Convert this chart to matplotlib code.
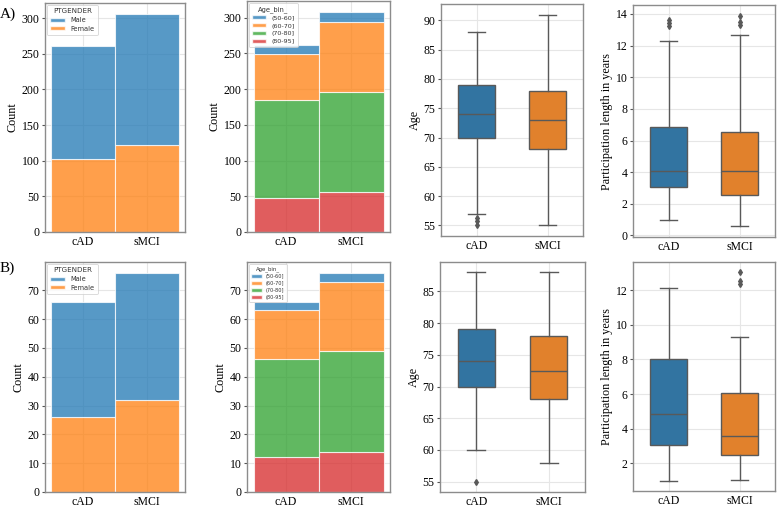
import numpy as np
import matplotlib
matplotlib.use("Agg")
import matplotlib.pyplot as plt
from matplotlib.patches import Patch

# categories
groups = ["cAD", "sMCI"]
genders = ["Male", "Female"]
age_bins = ["(50-60]", "(60-70]", "(70-80]", "(80-95]"]

# A) gender counts per group
a_female = [103, 122]
a_male = [158, 184]
# A) age bin counts per group
a_age = {
    "(50-60]": [13, 14],
    "(60-70]": [64, 98],
    "(70-80]": [137, 140],
    "(80-95]": [48, 56],
}

# B) gender counts per group
b_female = [26, 32]
b_male = [40, 44]
b_age = {
    "(50-60]": [3, 3],
    "(60-70]": [17, 24],
    "(70-80]": [34, 35],
    "(80-95]": [12, 14],
}

# box statistics: whislo, q1, med, q3, whishi, fliers
a_age_box = {
    "cAD": [57, 70, 74, 79, 88, [56.3, 55.8, 55.0]],
    "sMCI": [55, 68, 73, 78, 91, []],
}
a_len_box = {
    "cAD": [0.97, 3.04, 4.1, 6.84, 12.27, [13.64, 13.43, 13.26]],
    "sMCI": [0.57, 2.56, 4.05, 6.57, 12.69, [13.9, 13.47, 13.32]],
}
b_age_box = {
    "cAD": [60, 70, 74, 79, 88, [55.0]],
    "sMCI": [58, 68, 72.5, 78, 88, []],
}
b_len_box = {
    "cAD": [1.0, 3.03, 4.83, 8.02, 12.13, []],
    "sMCI": [1.04, 2.50, 3.59, 6.04, 9.27, [13.03, 12.52, 12.38]],
}

gender_colors = {"Male": "#1f77b4", "Female": "#ff7f0e"}
age_colors = {"(50-60]": "#1f77b4", "(60-70]": "#ff7f0e",
              "(70-80]": "#2ca02c", "(80-95]": "#d62728"}
box_colors = ["#3274a1", "#e1812c"]

serif = "Liberation Serif"
tick_fs = 8.5
label_fs = 8.7


def style_axes(ax):
    ax.set_facecolor("white")
    ax.grid(True, color="#e6e6e6", linewidth=0.8)
    ax.set_axisbelow(True)
    for s in ax.spines.values():
        s.set_color("#8c8c8c")
        s.set_linewidth(1.0)
    ax.tick_params(axis="y", length=2.5, width=0.8, color="#555555", labelsize=tick_fs, pad=1.5)
    ax.tick_params(axis="x", length=0, labelsize=tick_fs, pad=3)


def stacked_hist(ax, layers, colors, legend_title, legend_fs):
    # layers: list of (name, values) from bottom to top
    x = np.arange(len(groups))
    bottom = np.zeros(len(groups))
    for name, vals in layers:
        ax.bar(x, vals, width=1.0, bottom=bottom, color=colors[name], alpha=0.75,
               edgecolor=(1, 1, 1, 0.6), linewidth=0.8)
        bottom = bottom + np.array(vals)
    ax.set_xticks(x)
    ax.set_xticklabels(groups)
    ax.set_ylabel("Count", fontfamily=serif, fontsize=label_fs, labelpad=2)
    ax.margins(x=0.05)
    handles = [Patch(facecolor=colors[n], alpha=0.75, edgecolor=(1, 1, 1, 0.6)) for n, _ in reversed(layers)]
    labels = [n for n, _ in reversed(layers)]
    leg = ax.legend(handles, labels, title=legend_title, loc="upper left",
                    fontsize=legend_fs, title_fontsize=legend_fs + 0.3,
                    frameon=True, borderpad=0.5, handlelength=2.2, handleheight=0.6,
                    labelspacing=0.4, borderaxespad=0.3)
    for t in leg.get_texts():
        t.set_color("#333333")
    leg.get_title().set_color("#333333")
    leg.get_frame().set_edgecolor("#cccccc")
    leg.get_frame().set_linewidth(0.6)
    style_axes(ax)


def box(ax, stats, ylabel):
    bstats = []
    for g in groups:
        lo, q1, med, q3, hi, fl = stats[g]
        bstats.append(dict(whislo=lo, q1=q1, med=med, q3=q3, whishi=hi, fliers=fl, label=g))
    lc = "#595959"
    bp = ax.bxp(bstats, positions=[0, 1], widths=0.51, patch_artist=True,
                boxprops=dict(edgecolor=lc, linewidth=1.0),
                medianprops=dict(color=lc, linewidth=1.0),
                whiskerprops=dict(color=lc, linewidth=1.0),
                capprops=dict(color=lc, linewidth=1.0),
                flierprops=dict(marker="d", markersize=3, markerfacecolor=lc,
                                markeredgecolor=lc, linestyle="none"),
                capwidths=0.25)
    for patch, c in zip(bp["boxes"], box_colors):
        patch.set_facecolor(c)
    ax.set_xlim(-0.5, 1.5)
    ax.set_xticks([0, 1])
    ax.set_xticklabels(groups)
    ax.set_ylabel(ylabel, fontfamily=serif, fontsize=label_fs, labelpad=2)
    style_axes(ax)


fig = plt.figure(figsize=(7.77, 5.07), dpi=100)
W, H = 777, 507


def add_ax(l, t, r, b):
    return fig.add_axes([l / W, 1 - b / H, (r - l) / W, (b - t) / H])


# row A
ax = add_ax(45, 3, 185, 232)
stacked_hist(ax, [("Female", a_female), ("Male", a_male)], gender_colors, "PTGENDER", 4.8)
ax = add_ax(247, 1, 390, 232)
stacked_hist(ax, [(n, a_age[n]) for n in reversed(age_bins)], age_colors, "Age_bin_", 4.6)
ax = add_ax(441, 4, 583, 236)
box(ax, a_age_box, "Age")
ax.set_yticks(np.arange(55, 91, 5))
ax = add_ax(633, 5, 775, 237)
box(ax, a_len_box, "Participation length in years")
ax.set_yticks(np.arange(0, 15, 2))

# row B
ax = add_ax(45, 262, 185, 492)
stacked_hist(ax, [("Female", b_female), ("Male", b_male)], gender_colors, "PTGENDER", 4.8)
ax = add_ax(247, 262, 390, 492)
stacked_hist(ax, [(n, b_age[n]) for n in reversed(age_bins)], age_colors, "Age_bin_", 3.6)
ax = add_ax(440, 262, 585, 492)
box(ax, b_age_box, "Age")
ax.set_yticks(np.arange(55, 90, 5))
ax = add_ax(633, 262, 775, 491)
box(ax, b_len_box, "Participation length in years")
ax.set_yticks(np.arange(2, 13, 2))

for a in fig.axes:
    for lbl in a.get_xticklabels() + a.get_yticklabels():
        lbl.set_fontfamily(serif)
        lbl.set_fontsize(tick_fs)

fig.text(0.0, 1 - 18 / H, "A)", fontfamily=serif, fontsize=11)
fig.text(0.0, 1 - 272 / H, "B)", fontfamily=serif, fontsize=11)

fig.savefig("out.png", dpi=100, facecolor="white")
